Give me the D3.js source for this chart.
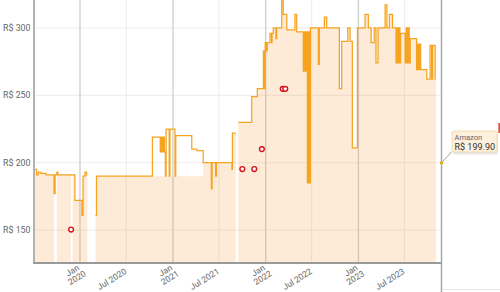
<!DOCTYPE html>
<html><head><meta charset="utf-8">
<script src="https://cdn.jsdelivr.net/npm/d3@7"></script>
<style>
body{margin:0;background:#fff;}
svg{display:block;font-family:Roboto,"Liberation Sans",Arial,sans-serif;}
</style>
</head><body>
<svg id="chart" width="500" height="292"></svg>
<script>
// ---------------- DATA ----------------
const changeDates = [
  "2019-07-08","2019-07-14","2019-07-21","2019-07-31","2019-08-20","2019-09-21","2019-09-25","2019-10-02","2019-10-06","2019-11-26","2019-12-03","2019-12-12",
  "2020-01-09","2020-01-13","2020-01-21","2020-01-27","2020-01-30","2020-03-02","2020-03-06",
  "2020-10-12","2020-11-12","2020-11-16","2020-11-20","2020-11-24","2020-11-28","2020-12-02","2020-12-05","2020-12-17","2020-12-20",
  "2021-01-09","2021-01-12","2021-03-16","2021-04-05","2021-04-30","2021-06-01","2021-06-04","2021-06-18","2021-06-21","2021-08-21","2021-08-23","2021-09-05","2021-09-15","2021-11-07","2021-11-29","2021-12-23","2021-12-27","2021-12-30",
  "2022-01-04","2022-01-07","2022-01-18","2022-01-24","2022-01-26","2022-01-31","2022-02-10","2022-02-13","2022-03-05","2022-03-11","2022-03-25","2022-04-26","2022-05-03","2022-05-29","2022-06-01","2022-06-05","2022-06-09","2022-06-14","2022-06-18","2022-06-22","2022-06-26","2022-07-27","2022-07-31","2022-08-20","2022-08-29","2022-10-18","2022-10-27","2022-11-20","2022-11-29","2022-12-08","2022-12-28",
  "2023-01-27","2023-02-09","2023-02-20","2023-03-04","2023-03-11","2023-03-19","2023-04-16","2023-04-23","2023-05-03","2023-05-15","2023-05-29","2023-06-01","2023-06-05","2023-06-09","2023-06-13","2023-06-16","2023-07-04","2023-07-08","2023-07-12","2023-07-16","2023-07-20","2023-07-24","2023-08-18","2023-08-22","2023-08-26","2023-08-30","2023-09-03","2023-09-27","2023-10-10","2023-10-16","2023-10-20","2023-10-30","2023-11-02"
];
// Price line (step after); null = no data
const linePrices = [
  195,191,193,192,191,177,191,193,191,191,191,172,
  161,190,193,191,null,161,190,
  219,208,219,208,219,208,190,225,190,225,
  190,220,210,209,200,180.5,200,190,200,195,222,null,230,249,255,283,255,289,
  283,289,296,289,296,300,292,300,325,310,298.5,310,297,268,297,268,297,185,297,185,300,273,300,308,300,255,290,300,290,211,300,
  310,300,289,300,274,300,317,300,310,300,274,300,274,300,274,296,274,300,274,300,274,292,269,288,269,288,269,262,287,262,287,262,null
];
// Shaded Amazon area (step after); null = out of stock
const fillPrices = [
  195,191,193,192,191,null,null,193,191,null,191,172,
  161,190,193,191,null,161,190,
  190,190,190,190,190,190,190,190,190,190,
  190,190,190,190,200,180.5,200,190,200,195,222,null,230,249,255,283,255,289,
  283,289,296,289,296,300,292,300,325,310,298.5,310,297,268,297,268,297,185,297,185,300,273,300,308,300,255,290,300,290,211,300,
  310,300,289,300,274,300,317,300,310,300,274,300,274,300,274,296,274,300,274,300,274,292,269,288,269,288,269,262,287,262,287,262,null
];
const dealDates  = ["2019-11-27","2021-10-01","2021-11-17","2021-12-17","2022-03-09","2022-03-19"];
const dealPrices = [150.4,195.3,195.3,210.1,254.8,254.8];

const xDomain = ["2019-07-04","2023-11-24"];
const yDomain = [125.6, 320.7];
const yTicks = [150,200,250,300];
const xTickDates  = ["2020-01-01","2020-07-01","2021-01-01","2021-07-01","2022-01-01","2022-07-01","2023-01-01","2023-07-01"];
const xTickLabels = [["Jan","2020"],["Jul 2020"],["Jan","2021"],["Jul 2021"],["Jan","2022"],["Jul 2022"],["Jan","2023"],["Jul 2023"]];
const currentSeries = "Amazon";
const currentPrice = 199.90;

// ---------------- CHART ----------------
const parse = d3.utcParse("%Y-%m-%d");
const svg = d3.select("#chart");
const P = {left:34, right:441.5, top:0, bottom:263};
const x = d3.scaleUtc().domain(xDomain.map(parse)).range([P.left, P.right]);
const y = d3.scaleLinear().domain(yDomain).range([P.bottom, P.top]);
const money = v => "R$ " + d3.format(".0f")(v);

svg.append("defs").append("clipPath").attr("id","clip")
  .append("rect").attr("x",P.left).attr("y",P.top).attr("width",P.right-P.left).attr("height",P.bottom-P.top);

// grid
svg.append("g").selectAll("line").data(yTicks).join("line")
  .attr("x1",P.left).attr("x2",P.right).attr("y1",d=>y(d)).attr("y2",d=>y(d))
  .attr("stroke","#ececec").attr("stroke-width",1);
svg.append("g").selectAll("line").data(xTickDates).join("line")
  .attr("x1",d=>x(parse(d))).attr("x2",d=>x(parse(d))).attr("y1",P.top).attr("y2",P.bottom)
  .attr("stroke",(d,i)=>i%2===0?"#cfcfcf":"#ececec").attr("stroke-width",(d,i)=>i%2===0?1.3:1);

function steps(vals){
  const pts=[];
  for(let i=0;i<changeDates.length-1;i++){
    pts.push({d:parse(changeDates[i]), v:vals[i]});
    pts.push({d:parse(changeDates[i+1]), v:vals[i]});
  }
  return pts;
}
const gPlot = svg.append("g").attr("clip-path","url(#clip)");
gPlot.append("path").datum(steps(fillPrices))
  .attr("d", d3.area().defined(p=>p.v!=null).x(p=>x(p.d)).y0(P.bottom).y1(p=>y(p.v)))
  .attr("fill","rgba(245,150,45,0.19)");
gPlot.append("path").datum(steps(linePrices))
  .attr("d", d3.line().defined(p=>p.v!=null).x(p=>x(p.d)).y(p=>y(p.v)))
  .attr("fill","none").attr("stroke","#f6a41f").attr("stroke-width",1.25);

// deals
svg.append("g").selectAll("circle").data(dealDates).join("circle")
  .attr("cx",d=>x(parse(d))).attr("cy",(d,i)=>y(dealPrices[i])).attr("r",2.4)
  .attr("fill","#fff").attr("stroke","#d7141a").attr("stroke-width",1.4);

// axes lines
svg.append("line").attr("x1",P.left).attr("x2",P.left).attr("y1",0).attr("y2",P.bottom+1)
  .attr("stroke","#9a9a9a").attr("stroke-width",1.5);
svg.append("line").attr("x1",P.left-0.75).attr("x2",P.right).attr("y1",P.bottom).attr("y2",P.bottom)
  .attr("stroke","#9a9a9a").attr("stroke-width",2);
svg.append("line").attr("x1",P.right).attr("x2",P.right).attr("y1",0).attr("y2",292)
  .attr("stroke","#a8a8a8").attr("stroke-width",1.5);
svg.append("line").attr("x1",P.right+1).attr("x2",500).attr("y1",289.5).attr("y2",289.5)
  .attr("stroke","#e6e6e6").attr("stroke-width",1);

// y labels
svg.append("g").selectAll("text").data(yTicks).join("text")
  .attr("x",30.5).attr("y",d=>y(d)).attr("dy","0.35em").attr("text-anchor","end")
  .attr("font-size",8.8).attr("fill","#666").text(money);

// x labels
const xl = svg.append("g").selectAll("g").data(xTickDates).join("g")
  .attr("transform",(d,i)=>{
    const two = xTickLabels[i].length>1;
    return `translate(${x(parse(d))+(two?4:1)},${two?272:273}) rotate(-32)`;
  });
xl.each(function(d,i){
  const lines = xTickLabels[i];
  const t = d3.select(this).append("text").attr("font-size",8.5).attr("fill","#666")
    .attr("text-anchor", lines.length>1?"middle":"end");
  lines.forEach((s,k)=>{
    t.append("tspan").attr("x", lines.length>1? -9:0).attr("y", lines.length>1 ? (k-1)*8.5+4 : 0).text(s);
  });
});

// current price marker + tooltip
const cx = P.right, cy = y(currentPrice);
svg.append("line").attr("x1",cx).attr("y1",cy).attr("x2",452).attr("y2",151.5)
  .attr("stroke","#8c8c8c").attr("stroke-width",0.8);
svg.append("circle").attr("cx",cx).attr("cy",cy).attr("r",1.6).attr("fill","#f2a300");
svg.append("rect").attr("x",452).attr("y",131.5).attr("width",45).attr("height",21.5).attr("rx",2)
  .attr("fill","#d9d9d9").attr("opacity",0.6).attr("transform","translate(1,1.5)");
svg.append("rect").attr("x",452).attr("y",131).attr("width",45).attr("height",21).attr("rx",2)
  .attr("fill","#fdf0dc").attr("stroke","#f1d6a6").attr("stroke-width",0.8);
svg.append("text").attr("x",454.5).attr("y",139.5).attr("font-size",7.5).attr("fill","#666").text(currentSeries);
svg.append("text").attr("x",454.5).attr("y",150).attr("font-size",9).attr("fill","#333")
  .text("R$ " + d3.format(".2f")(currentPrice));
// partially visible marker at right edge
svg.append("rect").attr("x",498.3).attr("y",123).attr("width",2).attr("height",10).attr("fill","#e4553f");
</script>
</body></html>
